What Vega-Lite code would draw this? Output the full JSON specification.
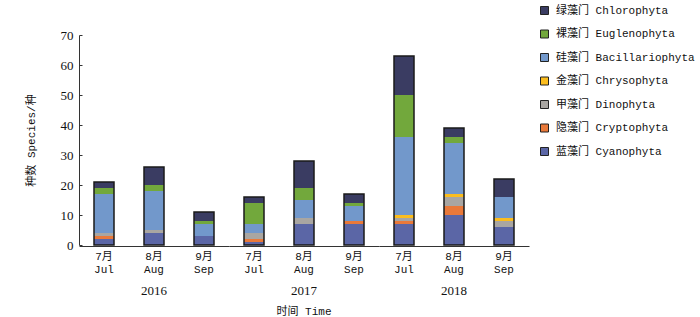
{
  "$schema": "https://vega.github.io/schema/vega-lite/v6.json",
  "padding": {"left": 25, "top": 5, "right": 5, "bottom": 0},
  "data": {"values": [
    {"year": "2016", "month": "Jul", "phylum": "蓝藻门 Cyanophyta", "value": 2},
    {"year": "2016", "month": "Jul", "phylum": "隐藻门 Cryptophyta", "value": 1},
    {"year": "2016", "month": "Jul", "phylum": "甲藻门 Dinophyta", "value": 1},
    {"year": "2016", "month": "Jul", "phylum": "硅藻门 Bacillariophyta", "value": 13},
    {"year": "2016", "month": "Jul", "phylum": "裸藻门 Euglenophyta", "value": 2},
    {"year": "2016", "month": "Jul", "phylum": "绿藻门 Chlorophyta", "value": 2},
    {"year": "2016", "month": "Aug", "phylum": "蓝藻门 Cyanophyta", "value": 4},
    {"year": "2016", "month": "Aug", "phylum": "甲藻门 Dinophyta", "value": 1},
    {"year": "2016", "month": "Aug", "phylum": "硅藻门 Bacillariophyta", "value": 13},
    {"year": "2016", "month": "Aug", "phylum": "裸藻门 Euglenophyta", "value": 2},
    {"year": "2016", "month": "Aug", "phylum": "绿藻门 Chlorophyta", "value": 6},
    {"year": "2016", "month": "Sep", "phylum": "蓝藻门 Cyanophyta", "value": 3},
    {"year": "2016", "month": "Sep", "phylum": "硅藻门 Bacillariophyta", "value": 4},
    {"year": "2016", "month": "Sep", "phylum": "裸藻门 Euglenophyta", "value": 1},
    {"year": "2016", "month": "Sep", "phylum": "绿藻门 Chlorophyta", "value": 3},
    {"year": "2017", "month": "Jul", "phylum": "蓝藻门 Cyanophyta", "value": 1},
    {"year": "2017", "month": "Jul", "phylum": "隐藻门 Cryptophyta", "value": 1},
    {"year": "2017", "month": "Jul", "phylum": "甲藻门 Dinophyta", "value": 2},
    {"year": "2017", "month": "Jul", "phylum": "硅藻门 Bacillariophyta", "value": 3},
    {"year": "2017", "month": "Jul", "phylum": "裸藻门 Euglenophyta", "value": 7},
    {"year": "2017", "month": "Jul", "phylum": "绿藻门 Chlorophyta", "value": 2},
    {"year": "2017", "month": "Aug", "phylum": "蓝藻门 Cyanophyta", "value": 7},
    {"year": "2017", "month": "Aug", "phylum": "甲藻门 Dinophyta", "value": 2},
    {"year": "2017", "month": "Aug", "phylum": "硅藻门 Bacillariophyta", "value": 6},
    {"year": "2017", "month": "Aug", "phylum": "裸藻门 Euglenophyta", "value": 4},
    {"year": "2017", "month": "Aug", "phylum": "绿藻门 Chlorophyta", "value": 9},
    {"year": "2017", "month": "Sep", "phylum": "蓝藻门 Cyanophyta", "value": 7},
    {"year": "2017", "month": "Sep", "phylum": "隐藻门 Cryptophyta", "value": 1},
    {"year": "2017", "month": "Sep", "phylum": "硅藻门 Bacillariophyta", "value": 5},
    {"year": "2017", "month": "Sep", "phylum": "裸藻门 Euglenophyta", "value": 1},
    {"year": "2017", "month": "Sep", "phylum": "绿藻门 Chlorophyta", "value": 3},
    {"year": "2018", "month": "Jul", "phylum": "蓝藻门 Cyanophyta", "value": 7},
    {"year": "2018", "month": "Jul", "phylum": "隐藻门 Cryptophyta", "value": 1},
    {"year": "2018", "month": "Jul", "phylum": "甲藻门 Dinophyta", "value": 1},
    {"year": "2018", "month": "Jul", "phylum": "金藻门 Chrysophyta", "value": 1},
    {"year": "2018", "month": "Jul", "phylum": "硅藻门 Bacillariophyta", "value": 26},
    {"year": "2018", "month": "Jul", "phylum": "裸藻门 Euglenophyta", "value": 14},
    {"year": "2018", "month": "Jul", "phylum": "绿藻门 Chlorophyta", "value": 13},
    {"year": "2018", "month": "Aug", "phylum": "蓝藻门 Cyanophyta", "value": 10},
    {"year": "2018", "month": "Aug", "phylum": "隐藻门 Cryptophyta", "value": 3},
    {"year": "2018", "month": "Aug", "phylum": "甲藻门 Dinophyta", "value": 3},
    {"year": "2018", "month": "Aug", "phylum": "金藻门 Chrysophyta", "value": 1},
    {"year": "2018", "month": "Aug", "phylum": "硅藻门 Bacillariophyta", "value": 17},
    {"year": "2018", "month": "Aug", "phylum": "裸藻门 Euglenophyta", "value": 2},
    {"year": "2018", "month": "Aug", "phylum": "绿藻门 Chlorophyta", "value": 3},
    {"year": "2018", "month": "Sep", "phylum": "蓝藻门 Cyanophyta", "value": 6},
    {"year": "2018", "month": "Sep", "phylum": "甲藻门 Dinophyta", "value": 2},
    {"year": "2018", "month": "Sep", "phylum": "金藻门 Chrysophyta", "value": 1},
    {"year": "2018", "month": "Sep", "phylum": "硅藻门 Bacillariophyta", "value": 7},
    {"year": "2018", "month": "Sep", "phylum": "绿藻门 Chlorophyta", "value": 6}
  ]},
  "transform": [
    {"calculate": "indexof(['绿藻门 Chlorophyta','裸藻门 Euglenophyta','硅藻门 Bacillariophyta','金藻门 Chrysophyta','甲藻门 Dinophyta','隐藻门 Cryptophyta','蓝藻门 Cyanophyta'], datum.phylum)", "as": "rank"}
  ],
  "facet": {
    "column": {
      "field": "year", "type": "ordinal",
      "header": {
        "labelOrient": "bottom", "titleOrient": "bottom",
        "title": "时间 Time",
        "labelFont": "Liberation Serif", "labelFontSize": 13, "labelPadding": 11, "labelColor": "#111",
        "titleFont": "Liberation Mono, Noto Sans CJK SC", "titleFontSize": 11, "titleFontWeight": "normal", "titlePadding": -2, "titleColor": "#111"
      }
    }
  },
  "spacing": 0,
  "spec": {
    "width": {"step": 50},
    "height": 210,
    "encoding": {
      "x": {
        "field": "month", "type": "nominal", "sort": ["Jul", "Aug", "Sep"],
        "scale": {"paddingInner": 0.6, "paddingOuter": 0.3},
        "axis": {
          "title": null, "labelAngle": 0, "ticks": false,
          "labelExpr": "[{'Jul':'7月','Aug':'8月','Sep':'9月'}[datum.value], datum.value]",
          "labelFont": "Liberation Mono, Noto Sans CJK SC", "labelFontSize": 11, "labelLineHeight": 13,
          "labelColor": "#111", "labelPadding": 4, "domainColor": "#333"
        }
      },
      "y": {
        "aggregate": "sum", "field": "value", "type": "quantitative",
        "scale": {"domain": [0, 70]},
        "axis": {
          "title": "种数 Species/种", "grid": false,
          "values": [0, 10, 20, 30, 40, 50, 60, 70],
          "tickSize": -3, "labelPadding": 9, "tickColor": "#333", "domainColor": "#333",
          "labelFont": "Liberation Serif", "labelFontSize": 13, "labelColor": "#111",
          "titleFont": "Liberation Mono, Noto Sans CJK SC", "titleFontSize": 11, "titleFontWeight": "normal",
          "titleColor": "#111", "titlePadding": 24
        }
      }
    },
    "layer": [
      {
        "mark": {"type": "bar"},
        "encoding": {
          "color": {
            "field": "phylum", "type": "nominal",
            "scale": {
              "domain": ["绿藻门 Chlorophyta", "裸藻门 Euglenophyta", "硅藻门 Bacillariophyta", "金藻门 Chrysophyta", "甲藻门 Dinophyta", "隐藻门 Cryptophyta", "蓝藻门 Cyanophyta"],
              "range": ["#3a3c62", "#72a83c", "#7298cb", "#fbbd1e", "#a9a6a2", "#e9793a", "#5b66a6"]
            },
            "legend": {
              "title": null, "orient": "none", "legendX": 460, "legendY": -30,
              "symbolType": "square", "symbolSize": 64, "symbolStrokeColor": "#222", "symbolStrokeWidth": 1,
              "symbolOpacity": 1,
              "labelFont": "Liberation Mono, Noto Sans CJK SC", "labelFontSize": 11, "labelColor": "#111",
              "rowPadding": 10.5, "padding": 0, "labelOffset": 6
            }
          },
          "order": {"aggregate": "min", "field": "rank", "type": "quantitative", "sort": "descending"}
        }
      },
      {
        "mark": {"type": "bar", "filled": false, "stroke": "#1a1a1a", "strokeWidth": 1.5}
      }
    ]
  },
  "config": {"view": {"stroke": null}}
}
